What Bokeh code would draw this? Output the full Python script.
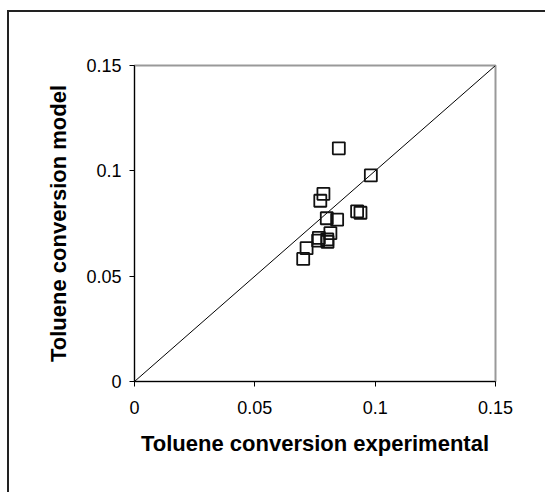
from bokeh.plotting import figure
from bokeh.models import FixedTicker, Range1d
from bokeh.embed import file_html
from bokeh.resources import INLINE

# Data
experimental = [0.0849, 0.0982, 0.0785, 0.0772, 0.0925, 0.0939, 0.0799, 0.0842,
                0.0814, 0.0766, 0.0763, 0.0801, 0.0802, 0.0715, 0.0701]
model = [0.1107, 0.0978, 0.0891, 0.0858, 0.0808, 0.0801, 0.0775, 0.0768,
         0.0704, 0.0682, 0.0669, 0.0674, 0.0663, 0.0633, 0.0582]
parity_x = [0.0, 0.15]
parity_y = [0.0, 0.15]
tick_values = [0.0, 0.05, 0.1, 0.15]
tick_labels = ["0", "0.05", "0.1", "0.15"]
x_title = "Toluene conversion experimental"
y_title = "Toluene conversion model"

FONT = "Liberation Sans"

p = figure(width=538, height=482, output_backend="svg", toolbar_location=None,
           x_range=Range1d(0, 0.15), y_range=Range1d(0, 0.15),
           min_border_left=125, min_border_right=52, min_border_top=53, min_border_bottom=113,
           margin=(10, 0, 0, 7),
           styles={"border-top": "2px solid #222222", "border-left": "2px solid #222222"})

p.background_fill_color = "white"
p.border_fill_color = "white"
p.outline_line_color = "#999999"
p.outline_line_width = 2
p.xgrid.visible = False
p.ygrid.visible = False

p.line(parity_x, parity_y, line_color="black", line_width=1)
p.scatter(experimental, model, marker="square", size=12, fill_color=None,
          line_color="#111111", line_width=1.8)

overrides = {v: t for v, t in zip(tick_values, tick_labels)}
for ax in (p.xaxis[0], p.yaxis[0]):
    ax.ticker = FixedTicker(ticks=tick_values)
    ax.major_label_overrides = overrides
    ax.minor_tick_line_color = None
    ax.major_tick_in = 0
    ax.major_tick_out = 5
    ax.axis_line_color = "black"
    ax.major_tick_line_color = "black"
    ax.major_label_text_font = FONT
    ax.major_label_text_font_size = "18px"
    ax.major_label_text_color = "black"
    ax.axis_label_text_font = FONT
    ax.axis_label_text_font_size = "22px"
    ax.axis_label_text_font_style = "bold"
    ax.axis_label_text_color = "black"

p.xaxis[0].axis_label = x_title
p.yaxis[0].axis_label = y_title
p.xaxis[0].major_label_standoff = 14
p.yaxis[0].major_label_standoff = 8
p.xaxis[0].axis_label_standoff = 14
p.yaxis[0].axis_label_standoff = 12

open("out.html", "w").write(file_html(p, INLINE))
